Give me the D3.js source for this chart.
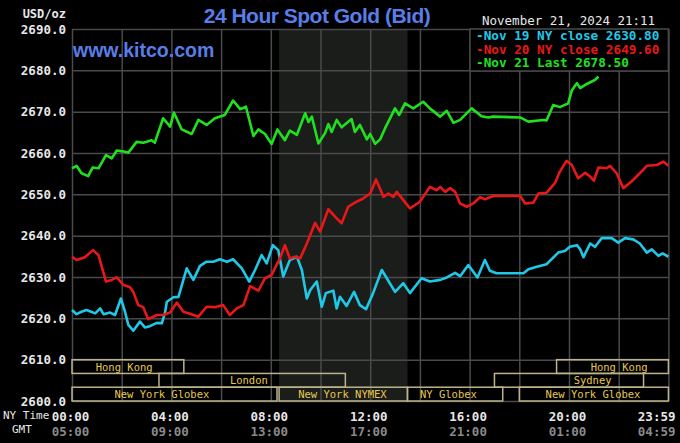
<!DOCTYPE html>
<html><head><meta charset="utf-8">
<script src="https://cdn.jsdelivr.net/npm/d3@7"></script>
<style>
html,body{margin:0;padding:0;background:#000;}
svg{display:block;}
</style></head><body>
<svg id="c" width="680" height="443"></svg>
<script>
const titleText = "24 Hour Spot Gold (Bid)";
const siteText = "www.kitco.com";
const stampText = "November 21, 2024 21:11";
const unitText = "USD/oz";
const yTicks = [2600,2610,2620,2630,2640,2650,2660,2670,2680,2690];
const gridMinutes = [0,120,240,360,480,600,720,840,960,1080,1200,1320,1440];
const labelMinutes = [0,240,480,720,960,1200,1439];
const nyLabels = ["00:00","04:00","08:00","12:00","16:00","20:00","23:59"];
const gmtLabels = ["05:00","09:00","13:00","17:00","21:00","01:00","04:59"];
const seriesNames = ["Nov 19 NY close 2630.80","Nov 20 NY close 2649.60","Nov 21 Last 2678.50"];
const seriesColors = ["#20c8e8","#e81818","#20e020"];
const nymexHours = [500, 810];

// [minutes after NY midnight, price]
const nov19 = [[0,2622.0],[11,2621.0],[23,2621.6],[35,2622.0],[46,2621.6],[56,2621.2],[68,2622.4],[76,2621.0],[92,2621.4],[104,2620.8],[118,2624.8],[128,2621.6],[136,2618.4],[148,2617.0],[164,2619.2],[176,2617.8],[188,2618.1],[205,2618.9],[217,2618.8],[225,2621.6],[229,2624.0],[245,2625.1],[257,2625.2],[277,2632.1],[293,2629.3],[309,2632.7],[325,2633.7],[341,2633.7],[357,2634.3],[374,2633.7],[389,2634.3],[410,2632.1],[428,2628.9],[442,2631.7],[458,2635.3],[470,2633.3],[485,2637.7],[498,2636.5],[510,2630.1],[526,2634.1],[543,2634.9],[555,2631.7],[567,2624.8],[575,2626.8],[591,2628.9],[603,2622.8],[613,2626.1],[631,2626.7],[639,2622.4],[647,2625.2],[663,2623.0],[681,2626.4],[695,2623.2],[710,2622.2],[727,2626.1],[748,2631.7],[760,2629.7],[780,2626.4],[800,2628.5],[816,2626.1],[844,2629.7],[864,2628.9],[889,2629.3],[905,2629.9],[925,2631.0],[937,2630.2],[957,2632.9],[979,2629.9],[997,2634.1],[1009,2631.5],[1025,2630.9],[1090,2630.9],[1102,2631.9],[1120,2632.4],[1146,2633.1],[1174,2635.9],[1190,2636.3],[1202,2637.3],[1219,2637.7],[1227,2636.7],[1235,2634.8],[1251,2638.1],[1263,2637.3],[1279,2639.4],[1303,2639.4],[1319,2638.3],[1335,2639.4],[1355,2639.1],[1371,2638.1],[1388,2635.9],[1400,2636.7],[1416,2635.1],[1426,2635.7],[1440,2634.9]];
const nov20 = [[0,2634.9],[11,2634.1],[31,2634.8],[51,2636.5],[64,2635.3],[82,2628.9],[96,2629.3],[108,2629.9],[124,2628.1],[140,2627.5],[148,2626.4],[160,2623.2],[172,2622.7],[184,2619.8],[205,2620.8],[220,2620.8],[237,2621.4],[253,2623.8],[269,2621.6],[289,2621.0],[305,2620.4],[325,2622.8],[345,2622.7],[365,2623.2],[381,2620.8],[398,2622.4],[414,2623.2],[430,2627.8],[450,2626.7],[466,2629.7],[482,2630.5],[502,2634.5],[514,2637.7],[526,2634.5],[538,2634.9],[551,2634.5],[567,2638.1],[587,2643.1],[599,2641.0],[619,2646.4],[635,2644.6],[651,2643.0],[667,2647.0],[683,2648.0],[703,2649.0],[720,2650.2],[734,2653.6],[752,2649.4],[764,2650.2],[776,2649.4],[784,2650.6],[800,2648.6],[816,2646.6],[840,2648.2],[864,2651.8],[881,2651.0],[889,2651.8],[901,2650.6],[913,2651.5],[925,2650.6],[937,2647.8],[953,2647.0],[969,2647.8],[985,2649.3],[997,2648.8],[1017,2649.6],[1082,2649.6],[1094,2647.8],[1114,2648.0],[1126,2650.2],[1146,2650.4],[1166,2652.7],[1178,2655.5],[1194,2658.1],[1207,2657.1],[1222,2653.9],[1239,2655.2],[1251,2654.3],[1260,2653.3],[1271,2656.5],[1291,2656.3],[1299,2656.9],[1315,2655.1],[1331,2651.5],[1351,2653.1],[1371,2655.1],[1388,2656.9],[1412,2657.1],[1428,2657.9],[1440,2656.9]];
const nov21 = [[0,2656.3],[11,2656.9],[23,2655.1],[39,2654.4],[50,2656.5],[64,2656.3],[82,2659.5],[96,2658.7],[108,2660.6],[122,2660.4],[136,2660.1],[156,2662.7],[172,2662.5],[192,2663.1],[200,2662.5],[220,2668.4],[237,2666.4],[246,2669.8],[265,2665.7],[289,2664.6],[305,2668.0],[325,2666.8],[345,2668.4],[369,2669.2],[389,2672.7],[406,2670.6],[420,2671.2],[438,2664.1],[450,2665.7],[466,2664.6],[482,2662.2],[496,2665.7],[514,2663.1],[526,2665.4],[543,2664.4],[563,2669.6],[571,2667.5],[579,2668.8],[595,2662.3],[611,2664.8],[619,2667.0],[627,2665.1],[639,2668.0],[651,2666.2],[675,2668.2],[683,2665.1],[695,2666.8],[712,2663.3],[720,2664.6],[732,2662.2],[744,2663.3],[756,2666.0],[780,2670.8],[790,2669.2],[804,2672.0],[824,2670.8],[848,2672.4],[864,2670.8],[889,2668.8],[905,2670.2],[921,2667.3],[937,2668.0],[965,2670.8],[989,2668.9],[1005,2668.6],[1017,2668.8],[1082,2668.6],[1102,2667.6],[1138,2668.0],[1146,2667.9],[1162,2671.6],[1178,2671.1],[1198,2672.0],[1207,2675.2],[1219,2676.9],[1227,2675.7],[1243,2676.7],[1255,2677.3],[1263,2677.7],[1271,2678.5]];

// sessions: name, row, start, end, label position (minutes)
const sessionNames = ["Hong Kong","Hong Kong","London","Sydney","New York Globex","New York NYMEX","NY Globex","New York Globex"];
const sessionRows = [0,0,1,1,2,2,2,2];
const sessionStart = [0,1170,210,1020,0,500,810,1080];
const sessionEnd = [270,1440,660,1380,495,810,1040,1440];
const sessionLabelAt = [126,1321,427,1257,217,653,909,1258];

const svg = d3.select("#c");
const W = 680, H = 443;
const m = {left:72, right:11.6, top:29, bottom:42};
svg.append("rect").attr("width",W).attr("height",H).attr("fill","#000");

const x = d3.scaleLinear().domain([0,1440]).range([m.left, W-m.right]);
const y = d3.scaleLinear().domain([2600,2690]).range([H-m.bottom, m.top]);
const gridColor = "#4a4a4a";
const mono = "'DejaVu Sans Mono', monospace";

// NYMEX shade
svg.append("rect")
  .attr("x", x(nymexHours[0])).attr("width", x(nymexHours[1]) - x(nymexHours[0]))
  .attr("y", y(2690)).attr("height", y(2600) - y(2690))
  .attr("fill", "#1b1d1b");

// grid via axes
const gx = svg.append("g").attr("transform",`translate(0,${y(2600)})`)
  .call(d3.axisBottom(x).tickValues(gridMinutes).tickSize(-(y(2600)-y(2690))).tickFormat(""));
gx.select(".domain").remove();
gx.selectAll("line").attr("stroke",gridColor).attr("stroke-width",1.5);

const gy = svg.append("g").attr("transform",`translate(${m.left},0)`)
  .call(d3.axisLeft(y).tickValues(yTicks).tickSize(-(x(1440)-x(0))).tickPadding(6).tickFormat(d=>d.toFixed(1)));
gy.select(".domain").remove();
gy.selectAll("line").attr("stroke",gridColor).attr("stroke-width",1.5);
gy.selectAll("text").attr("fill","#e8e8e8").attr("font-family",mono).attr("font-weight","bold").attr("font-size","12.5px");

// unit label
svg.append("text").attr("x",66).attr("y",18).attr("text-anchor","end")
  .attr("fill","#e8e8e8").attr("font-family",mono).attr("font-weight","bold").attr("font-size","12px").text(unitText);

// session bars
const rowH = (y(2600) - y(2610)) / 3;
const sess = svg.append("g");
sessionNames.forEach((name,i)=>{
  const top = y(2610) + sessionRows[i]*rowH;
  sess.append("rect").attr("x", x(sessionStart[i])).attr("y", top)
    .attr("width", x(sessionEnd[i]) - x(sessionStart[i])).attr("height", rowH)
    .attr("fill","none").attr("stroke","#bdb38a").attr("stroke-width",1.5);
  sess.append("text").attr("x", x(sessionLabelAt[i])).attr("y", top + rowH/2 + 4)
    .attr("text-anchor","middle").attr("fill","#e6c84e").attr("font-family",mono)
    .attr("font-size","10.5px").text(name);
});

// lines
const line = d3.line().x(d=>x(d[0])).y(d=>y(d[1]));
[nov19, nov20, nov21].forEach((s,i)=>{
  svg.append("path").datum(s).attr("d",line).attr("fill","none")
    .attr("stroke",seriesColors[i]).attr("stroke-width",2.6).attr("stroke-linejoin","round");
});

// x labels
const xl = svg.append("g").attr("transform",`translate(0,${y(2600)})`)
  .call(d3.axisBottom(x).tickValues(labelMinutes).tickSize(0).tickPadding(11).tickFormat((d,i)=>nyLabels[i]));
xl.select(".domain").remove();
xl.selectAll("text").attr("fill","#e8e8e8").attr("font-family",mono).attr("font-weight","bold").attr("font-size","12.5px").attr("dx","-2");
const xg = svg.append("g").attr("transform",`translate(0,${y(2600)+15})`)
  .call(d3.axisBottom(x).tickValues(labelMinutes).tickSize(0).tickPadding(11).tickFormat((d,i)=>gmtLabels[i]));
xg.select(".domain").remove();
xg.selectAll("text").attr("fill","#8a8a8a").attr("font-family",mono).attr("font-weight","bold").attr("font-size","12.5px").attr("dx","-2");
[xl, xg].forEach(g=>{
  g.selectAll(".tick").filter(d=>d===1439).select("text").attr("text-anchor","end").attr("dx","7");
});

svg.append("text").attr("x",3).attr("y",419).attr("fill","#e8e8e8").attr("font-family",mono).attr("font-size","11px").text("NY Time");
svg.append("text").attr("x",12).attr("y",433).attr("fill","#e8e8e8").attr("font-family",mono).attr("font-size","11px").text("GMT");

// legend
const lg = svg.append("g");
lg.append("rect").attr("x",470).attr("y",y(2690)).attr("width",x(1440)-470).attr("height",42)
  .attr("fill","#000").attr("stroke",gridColor).attr("stroke-width",1.5);
seriesNames.forEach((n,i)=>{
  lg.append("text").attr("x",476).attr("y",40 + i*13.5).attr("fill",seriesColors[i])
    .attr("font-family",mono).attr("font-weight","bold").attr("font-size","12.7px").text("-" + n);
});

// titles
svg.append("text").attr("x",317).attr("y",23).attr("text-anchor","middle")
  .attr("fill","#5a7ee8").attr("font-family","'Liberation Sans', Arial, sans-serif").attr("font-weight","bold")
  .attr("font-size","21px").attr("letter-spacing","-0.5px").text(titleText);
svg.append("text").attr("x",73).attr("y",57)
  .attr("fill","#5a7ee8").attr("font-family","'Liberation Sans', Arial, sans-serif").attr("font-weight","bold").attr("font-size","19.5px").text(siteText);
svg.append("text").attr("x",482).attr("y",25)
  .attr("fill","#e8e8e8").attr("font-family",mono).attr("font-size","12.5px").text(stampText);
</script>
</body></html>
